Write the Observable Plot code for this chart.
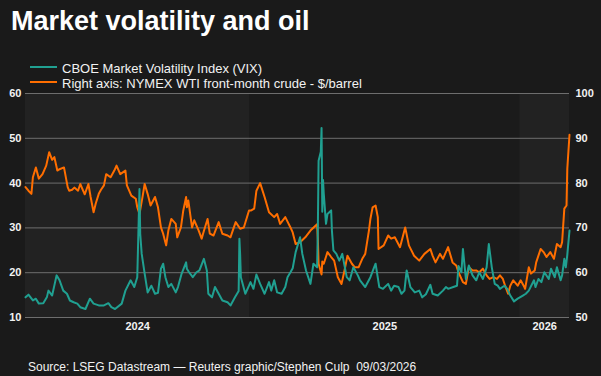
<!DOCTYPE html>
<html><head><meta charset="utf-8">
<script src="https://cdn.jsdelivr.net/npm/d3@7"></script>
<script src="https://cdn.jsdelivr.net/npm/@observablehq/plot@0.6"></script>
<style>
html,body{margin:0;padding:0;background:#1a1a1a;}
#wrap{position:relative;width:601px;height:376px;overflow:hidden;font-family:"Liberation Sans",Arial,sans-serif;color:#fff;}
#title{position:absolute;left:11px;top:8px;font-size:27px;line-height:27px;font-weight:bold;white-space:nowrap;}
.leg{position:absolute;left:62px;font-size:13px;line-height:15px;white-space:nowrap;color:#f2f2f2;}
.sw{position:absolute;left:30px;width:27px;height:2px;}
#chart{position:absolute;left:0;top:85px;}
#source{position:absolute;left:28px;top:361px;font-size:12px;line-height:12px;white-space:nowrap;color:#f2f2f2;}
</style></head>
<body><div id="wrap">
<div id="title"></div>
<div id="legend"></div>
<div id="chart"></div>
<div id="source"></div>
</div>
<script>
const titleText = "Market volatility and oil";
const sourceText = "Source: LSEG Datastream \u2014 Reuters graphic/Stephen Culp\u00a0\u00a009/03/2026";
const legendLabels = ["CBOE Market Volatility Index (VIX)", "Right axis: NYMEX WTI front-month crude - $/barrel"];
const years = [2024, 2025, 2026];
const leftTicks = [10, 20, 30, 40, 50, 60];
const rightTicks = [50, 60, 70, 80, 90, 100];

const vixSeries = [
["2024-03-04",14.5],["2024-03-08",15.1],["2024-03-14",13.8],["2024-03-18",14.2],["2024-03-22",13.1],["2024-03-28",13.2],
["2024-04-02",14.6],["2024-04-04",16.0],["2024-04-09",14.9],["2024-04-15",19.4],["2024-04-19",18.3],["2024-04-24",16.0],["2024-04-29",15.3],
["2024-05-03",13.8],["2024-05-08",13.4],["2024-05-13",13.1],["2024-05-17",12.3],["2024-05-24",11.9],["2024-05-30",14.2],
["2024-06-04",13.1],["2024-06-11",12.7],["2024-06-18",12.7],["2024-06-24",13.2],["2024-06-28",12.3],
["2024-07-03",11.9],["2024-07-12",13.1],["2024-07-17",16.0],["2024-07-24",18.3],["2024-07-29",16.8],
["2024-08-02",19.0],["2024-08-05",38.7],["2024-08-06",28.7],["2024-08-08",24.2],["2024-08-12",19.8],["2024-08-16",15.6],["2024-08-21",17.1],["2024-08-26",15.3],["2024-08-30",15.5],
["2024-09-03",20.9],["2024-09-06",22.0],["2024-09-09",19.0],["2024-09-13",16.8],["2024-09-17",17.5],["2024-09-23",15.6],["2024-09-26",16.8],
["2024-10-01",19.8],["2024-10-07",22.3],["2024-10-08",20.9],["2024-10-11",20.1],["2024-10-16",19.0],["2024-10-21",20.1],["2024-10-25",20.5],["2024-10-31",23.1],
["2024-11-04",20.5],["2024-11-06",15.3],["2024-11-11",14.5],["2024-11-15",16.8],["2024-11-20",15.3],["2024-11-25",13.8],
["2024-12-02",13.4],["2024-12-06",12.7],["2024-12-12",14.5],["2024-12-17",15.9],["2024-12-18",27.6],["2024-12-19",24.1],["2024-12-20",19.0],["2024-12-26",15.3],["2024-12-31",17.1],
["2025-01-02",17.9],["2025-01-06",16.4],["2025-01-10",19.6],["2025-01-15",17.5],["2025-01-21",15.3],["2025-01-27",17.9],["2025-01-30",16.0],
["2025-02-03",18.3],["2025-02-07",15.6],["2025-02-13",15.3],["2025-02-18",16.8],["2025-02-21",19.0],["2025-02-25",20.1],["2025-02-28",21.0],
["2025-03-04",24.6],["2025-03-10",27.9],["2025-03-13",24.2],["2025-03-18",20.5],["2025-03-24",17.5],["2025-03-28",22.0],
["2025-04-02",21.2],["2025-04-03",30.0],["2025-04-04",45.0],["2025-04-07",47.0],["2025-04-08",52.3],["2025-04-09",33.6],["2025-04-10",40.7],["2025-04-11",37.6],
["2025-04-14",30.9],["2025-04-16",33.1],["2025-04-21",33.9],["2025-04-22",29.4],["2025-04-24",25.0],["2025-04-28",24.2],
["2025-05-02",22.7],["2025-05-06",24.2],["2025-05-12",19.0],["2025-05-16",18.3],["2025-05-21",21.2],["2025-05-27",19.4],["2025-05-30",18.3],
["2025-06-06",16.8],["2025-06-13",19.0],["2025-06-18",21.2],["2025-06-20",22.0],["2025-06-25",16.8],["2025-06-30",16.4],
["2025-07-07",17.5],["2025-07-11",16.0],["2025-07-15",17.1],["2025-07-21",16.8],["2025-07-25",15.3],["2025-07-29",16.0],
["2025-08-01",20.5],["2025-08-06",16.8],["2025-08-12",15.6],["2025-08-18",16.0],["2025-08-22",14.5],["2025-08-27",15.2],
["2025-09-02",17.3],["2025-09-05",15.3],["2025-09-12",14.9],["2025-09-19",16.0],["2025-09-23",16.8],["2025-09-26",16.4],
["2025-10-03",16.8],["2025-10-08",17.1],["2025-10-10",21.5],["2025-10-14",20.1],["2025-10-16",25.3],["2025-10-20",18.6],["2025-10-24",21.6],["2025-10-29",19.4],
["2025-11-03",18.3],["2025-11-07",20.1],["2025-11-12",18.6],["2025-11-17",21.2],["2025-11-20",26.4],["2025-11-24",21.2],["2025-11-28",17.5],
["2025-12-02",17.1],["2025-12-05",16.4],["2025-12-11",17.1],["2025-12-15",16.4],["2025-12-19",14.9],["2025-12-24",13.6],["2025-12-29",14.2],
["2026-01-05",14.9],["2026-01-09",15.3],["2026-01-13",16.0],["2026-01-20",18.3],["2026-01-22",16.8],["2026-01-26",18.6],["2026-01-30",17.9],
["2026-02-03",20.1],["2026-02-09",18.6],["2026-02-12",20.9],["2026-02-17",19.0],["2026-02-20",21.2],["2026-02-25",18.3],["2026-02-27",19.4],
["2026-03-02",23.1],["2026-03-04",21.2],["2026-03-06",24.0],["2026-03-09",29.4]
];

const wtiSeries = [
["2024-03-04",79.1],["2024-03-08",78.3],["2024-03-12",77.6],["2024-03-14",81.3],["2024-03-18",83.5],["2024-03-22",81.0],["2024-03-27",82.0],
["2024-04-01",83.9],["2024-04-05",86.9],["2024-04-09",85.2],["2024-04-12",85.8],["2024-04-16",82.8],["2024-04-19",83.1],["2024-04-25",83.5],["2024-04-30",79.1],
["2024-05-02",78.3],["2024-05-06",78.5],["2024-05-09",79.0],["2024-05-14",78.3],["2024-05-17",79.8],["2024-05-23",77.5],["2024-05-28",79.8],["2024-05-31",76.9],
["2024-06-04",73.5],["2024-06-07",75.5],["2024-06-11",77.6],["2024-06-14",78.5],["2024-06-18",79.5],["2024-06-21",82.0],["2024-06-27",81.3],
["2024-07-02",82.8],["2024-07-05",83.9],["2024-07-10",82.0],["2024-07-17",82.8],["2024-07-19",79.5],["2024-07-25",77.2],["2024-07-31",76.5],
["2024-08-02",74.6],["2024-08-05",73.1],["2024-08-09",76.8],["2024-08-12",79.8],["2024-08-16",77.6],["2024-08-20",75.0],["2024-08-26",76.9],["2024-08-30",74.6],
["2024-09-03",70.1],["2024-09-06",68.7],["2024-09-10",66.1],["2024-09-13",69.4],["2024-09-17",72.0],["2024-09-23",70.9],["2024-09-25",67.9],["2024-09-30",70.1],
["2024-10-03",73.7],["2024-10-07",76.9],["2024-10-08",74.6],["2024-10-10",76.1],["2024-10-15",70.1],["2024-10-18",71.7],["2024-10-24",69.4],["2024-10-28",67.6],["2024-10-31",69.3],
["2024-11-05",72.0],["2024-11-08",68.7],["2024-11-13",68.3],["2024-11-20",71.3],["2024-11-25",68.7],
["2024-12-02",68.3],["2024-12-06",67.9],["2024-12-09",69.4],["2024-12-13",71.3],["2024-12-19",69.8],["2024-12-24",70.1],["2024-12-31",73.9],
["2025-01-03",73.9],["2025-01-07",74.3],["2025-01-10",78.3],["2025-01-15",80.0],["2025-01-21",76.9],["2025-01-27",73.5],
["2025-02-03",72.4],["2025-02-07",73.1],["2025-02-11",70.9],["2025-02-18",72.4],["2025-02-25",70.1],["2025-02-28",69.0],
["2025-03-04",66.4],["2025-03-10",66.8],["2025-03-17",67.9],["2025-03-24",69.4],
["2025-04-02",70.8],["2025-04-03",67.5],["2025-04-04",62.0],["2025-04-08",59.6],["2025-04-09",62.5],["2025-04-11",62.0],["2025-04-16",64.6],["2025-04-21",63.5],["2025-04-25",62.7],["2025-04-30",59.0],
["2025-05-05",57.5],["2025-05-09",60.5],["2025-05-13",63.8],["2025-05-19",62.0],["2025-05-23",61.2],["2025-05-28",61.2],
["2025-06-02",63.1],["2025-06-06",64.2],["2025-06-11",69.4],["2025-06-13",72.0],["2025-06-16",74.6],["2025-06-20",75.0],["2025-06-23",72.4],["2025-06-24",65.3],
["2025-07-01",66.1],["2025-07-07",68.3],["2025-07-11",67.6],["2025-07-16",67.9],["2025-07-23",65.7],["2025-07-30",70.1],
["2025-08-04",66.1],["2025-08-11",63.8],["2025-08-18",62.7],["2025-08-25",64.2],
["2025-09-02",65.3],["2025-09-05",63.8],["2025-09-09",62.3],["2025-09-15",64.2],["2025-09-19",63.1],["2025-09-23",64.6],["2025-09-26",65.7],
["2025-10-02",62.3],["2025-10-07",61.6],["2025-10-10",60.1],["2025-10-16",57.9],["2025-10-20",57.5],["2025-10-24",61.2],["2025-10-29",60.5],
["2025-11-03",60.5],["2025-11-07",60.1],["2025-11-12",60.9],["2025-11-17",59.4],["2025-11-21",58.6],["2025-11-26",59.0],
["2025-12-01",58.6],["2025-12-05",59.4],["2025-12-09",58.6],["2025-12-12",57.1],["2025-12-16",55.3],["2025-12-19",57.1],["2025-12-23",58.3],["2025-12-29",57.1],
["2026-01-02",58.3],["2026-01-07",56.8],["2026-01-08",56.4],["2026-01-13",61.2],["2026-01-16",59.8],["2026-01-21",60.5],["2026-01-23",62.3],["2026-01-29",65.3],
["2026-02-02",64.6],["2026-02-06",63.5],["2026-02-11",64.6],["2026-02-16",63.1],["2026-02-20",66.4],["2026-02-25",65.7],["2026-02-27",66.8],
["2026-03-02",74.3],["2026-03-05",75.0],["2026-03-06",83.2],["2026-03-09",90.8]
];

const TEAL = "#20a091";
const ORANGE = "#ff6e00";

const parse = d3.utcParse("%Y-%m-%d");
const vix = vixSeries.map(([d, v]) => ({date: parse(d), value: v}));
const wti = wtiSeries.map(([d, v]) => ({date: parse(d), value: v}));
const offset = rightTicks[0] - leftTicks[0];
const start = d3.min([vix[0].date, wti[0].date]);
const end = d3.max([vix[vix.length - 1].date, wti[wti.length - 1].date]);
const bands = years.map((y, i) => {
  const x1 = new Date(Math.max(+start, Date.UTC(y, 0, 1)));
  const x2 = new Date(Math.min(+end, Date.UTC(y + 1, 0, 1)));
  return {year: y, x1, x2, mid: new Date((+x1 + +x2) / 2), shade: i % 2 === 0 ? "light" : "dark"};
});

document.getElementById("title").textContent = titleText;
document.getElementById("source").textContent = sourceText;
const legend = document.getElementById("legend");
const legColors = [TEAL, ORANGE];
const legTop = 60.5, legStep = 15;
legendLabels.forEach((lab, i) => {
  const sw = document.createElement("div");
  sw.className = "sw"; sw.style.top = (legTop + i * legStep + 5.5) + "px"; sw.style.background = legColors[i];
  legend.appendChild(sw);
  const t = document.createElement("div");
  t.className = "leg"; t.style.top = (legTop + i * legStep) + "px"; t.textContent = lab;
  legend.appendChild(t);
});

const chart = Plot.plot({
  width: 601, height: 255,
  marginTop: 8, marginBottom: 23, marginLeft: 25, marginRight: 32,
  style: {background: "transparent", color: "#f2f2f2", fontFamily: "Liberation Sans, Arial, sans-serif", fontSize: "11px", fontWeight: "bold", overflow: "visible"},
  x: {type: "utc", domain: [start, end]},
  y: {domain: [leftTicks[0], leftTicks[leftTicks.length - 1]]},
  color: {type: "ordinal", domain: ["light", "dark"], range: ["#222222", "#1b1b1b"]},
  marks: [
    Plot.rect(bands, {x1: "x1", x2: "x2", y1: leftTicks[0], y2: leftTicks[leftTicks.length - 1], fill: "shade"}),
    Plot.gridY(leftTicks, {stroke: "#6e6e6e", strokeOpacity: 1, strokeWidth: 1}),
    Plot.axisY(leftTicks, {anchor: "left", tickSize: 0, tickPadding: 4, label: null, tickFormat: d => String(d)}),
    Plot.axisY(leftTicks, {anchor: "right", tickSize: 0, tickPadding: 6, label: null, tickFormat: d => String(rightTicks[leftTicks.indexOf(d)])}),
    Plot.axisX(bands.map(b => b.mid), {anchor: "bottom", tickSize: 0, tickPadding: 5, label: null, tickFormat: d => String(d.getUTCFullYear())}),
    Plot.lineY(wti, {x: "date", y: d => d.value - offset, stroke: ORANGE, strokeWidth: 2}),
    Plot.lineY(vix, {x: "date", y: "value", stroke: TEAL, strokeWidth: 2})
  ]
});
document.getElementById("chart").appendChild(chart);
</script>
</body></html>
